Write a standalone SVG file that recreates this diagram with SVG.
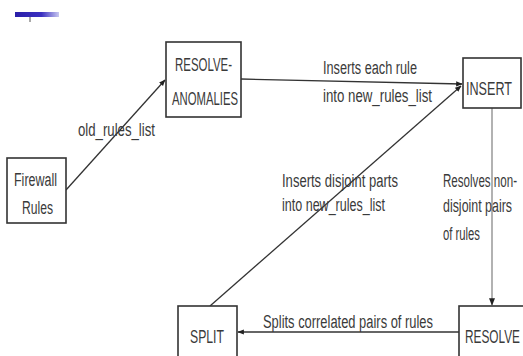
<svg xmlns="http://www.w3.org/2000/svg" width="523" height="356" viewBox="0 0 523 356">
<defs>
<linearGradient id="bar" x1="0" y1="0" x2="1" y2="0">
<stop offset="0" stop-color="#2a1fa8"/>
<stop offset="0.6" stop-color="#3a2fc0"/>
<stop offset="1" stop-color="#c8c8f0"/>
</linearGradient>
<marker id="ah" viewBox="0 0 10 10" refX="9" refY="5" markerWidth="5" markerHeight="5" orient="auto">
<path d="M0,1 L10,5 L0,9 z" fill="#222"/>
</marker>
<style>
.box{fill:#fff;stroke:#333;stroke-width:1.6}
.t{font-family:"Liberation Sans Narrow","Liberation Sans",Arial,sans-serif;font-size:18px;fill:#3a3a3a}
.c{fill:none;stroke:#333;stroke-width:1.3}
.g{fill:none;stroke:#999;stroke-width:1.5}
</style>
</defs>
<rect width="523" height="356" fill="#fff"/>
<g id="bullet">
<rect x="15" y="12" width="44" height="5" fill="url(#bar)"/>
<line x1="30" y1="17" x2="30" y2="22" stroke="#555" stroke-width="1"/>
</g>
<g id="connectors">
<line class="c" x1="66" y1="190" x2="165" y2="80" marker-end="url(#ah)"/>
<line class="c" x1="241" y1="79" x2="462" y2="84" marker-end="url(#ah)"/>
<line class="c" x1="210" y1="306" x2="461" y2="86" marker-end="url(#ah)"/>
<line class="g" x1="492" y1="108" x2="492" y2="305" marker-end="url(#ah)"/>
<line class="c" x1="459" y1="332" x2="238" y2="332" marker-end="url(#ah)"/>
</g>
<g id="labels">
<text class="t" x="78" y="136" textLength="77" lengthAdjust="spacingAndGlyphs">old_rules_list</text>
<text class="t" x="323" y="74" textLength="94" lengthAdjust="spacingAndGlyphs">Inserts each rule</text>
<text class="t" x="323" y="102" textLength="109" lengthAdjust="spacingAndGlyphs">into new_rules_list</text>
<text class="t" x="282" y="187" textLength="116" lengthAdjust="spacingAndGlyphs">Inserts disjoint parts</text>
<text class="t" x="282" y="211" textLength="103" lengthAdjust="spacingAndGlyphs">into new_rules_list</text>
<text class="t" x="443" y="187" textLength="74" lengthAdjust="spacingAndGlyphs">Resolves non-</text>
<text class="t" x="443" y="212" textLength="69" lengthAdjust="spacingAndGlyphs">disjoint pairs</text>
<text class="t" x="443" y="240" textLength="37" lengthAdjust="spacingAndGlyphs">of rules</text>
<text class="t" x="263" y="328" textLength="170" lengthAdjust="spacingAndGlyphs">Splits correlated pairs of rules</text>
</g>
<g id="firewall">
<rect class="box" x="7" y="158" width="59" height="65"/>
<text class="t" x="14" y="186" textLength="43" lengthAdjust="spacingAndGlyphs">Firewall</text>
<text class="t" x="22" y="214" textLength="31" lengthAdjust="spacingAndGlyphs">Rules</text>
</g>
<g id="resolve-anomalies">
<rect class="box" x="166" y="42" width="75" height="75"/>
<text class="t" x="175" y="71" textLength="57" lengthAdjust="spacingAndGlyphs">RESOLVE-</text>
<text class="t" x="172" y="105" textLength="66" lengthAdjust="spacingAndGlyphs">ANOMALIES</text>
</g>
<g id="insert">
<rect class="box" x="463" y="58" width="58" height="50"/>
<text class="t" x="466" y="95" textLength="46" lengthAdjust="spacingAndGlyphs">INSERT</text>
</g>
<g id="split">
<rect class="box" x="178" y="306" width="59" height="60"/>
<text class="t" x="190" y="343" textLength="34" lengthAdjust="spacingAndGlyphs">SPLIT</text>
</g>
<g id="resolve">
<rect class="box" x="459" y="306" width="70" height="60"/>
<text class="t" x="465" y="343" textLength="55" lengthAdjust="spacingAndGlyphs">RESOLVE</text>
</g>
</svg>
